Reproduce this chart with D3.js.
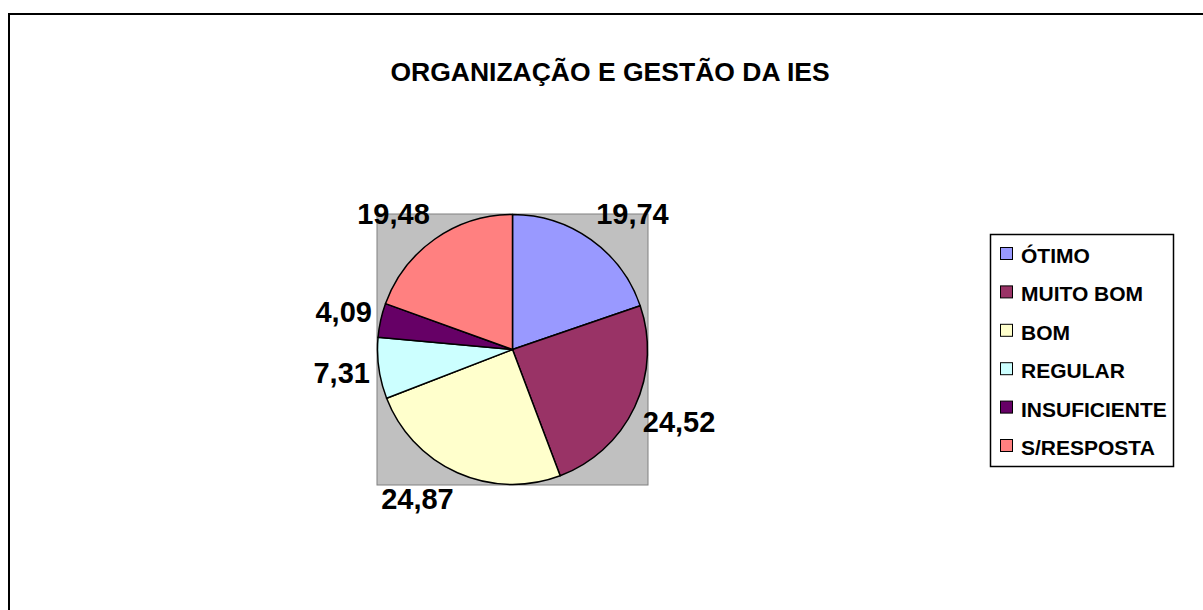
<!DOCTYPE html>
<html>
<head>
<meta charset="utf-8">
<script src="https://d3js.org/d3.v7.min.js"></script>
<style>
  body { margin: 0; background: #fff; }
  svg { display: block; font-family: "Liberation Sans", Arial, sans-serif; font-weight: bold; }
</style>
</head>
<body>
<div id="chart"></div>
<script>
var categories = ["ÓTIMO", "MUITO BOM", "BOM", "REGULAR", "INSUFICIENTE", "S/RESPOSTA"];
var values = [19.74, 24.52, 24.87, 7.31, 4.09, 19.48];
var colors = ["#9999FF", "#993366", "#FFFFCC", "#CCFFFF", "#660066", "#FF8080"];
var title = "ORGANIZAÇÃO E GESTÃO DA IES";

var width = 1203, height = 610;
var cx = 512.5, cy = 349.5, radius = 135;

var svg = d3.select("#chart").append("svg")
    .attr("width", width)
    .attr("height", height);

// outer frame (right and bottom run off the picture)
svg.append("rect")
    .attr("x", 9).attr("y", 14)
    .attr("width", 1200).attr("height", 610)
    .attr("fill", "none")
    .attr("stroke", "#000")
    .attr("stroke-width", 2);

svg.append("text")
    .attr("x", 610).attr("y", 81)
    .attr("text-anchor", "middle")
    .attr("font-size", 26.5)
    .text(title);

// plot area
svg.append("rect")
    .attr("x", cx - radius - 0.5).attr("y", cy - radius - 0.5)
    .attr("width", radius * 2 + 1).attr("height", radius * 2 + 1)
    .attr("fill", "#C0C0C0")
    .attr("stroke", "#808080")
    .attr("stroke-width", 1);

var pie = d3.pie().sort(null).value(function(d) { return d; });
var arcs = pie(values);
var arc = d3.arc().innerRadius(0).outerRadius(radius);

var g = svg.append("g").attr("transform", "translate(" + cx + "," + cy + ")");

g.selectAll("path.slice")
    .data(arcs)
    .enter().append("path")
    .attr("class", "slice")
    .attr("d", arc)
    .attr("fill", function(d, i) { return colors[i]; })
    .attr("stroke", "#000")
    .attr("stroke-width", 1.5)
    .attr("stroke-linejoin", "round");

// data labels, placed outside the slice like Excel does
var fmt = function(v) { return v.toFixed(2).replace(".", ","); };
var labelR = radius + 9, capH = 20, halfH = 18;
var labels = g.selectAll("text.lbl")
    .data(arcs)
    .enter().append("text")
    .attr("class", "lbl")
    .attr("font-size", 29)
    .attr("text-anchor", "middle")
    .text(function(d) { return fmt(d.data); });

labels.each(function(d) {
    var a = (d.startAngle + d.endAngle) / 2;
    var w = this.getComputedTextLength();
    var s = Math.sin(a), c = Math.cos(a);
    var px = labelR * s, py = -labelR * c;
    var ox = w / 2 * Math.max(-1, Math.min(1, s * 2.5));
    var oy = -halfH * Math.max(-1, Math.min(1, c * 1.5));
    d3.select(this)
        .attr("x", px + ox)
        .attr("y", py + oy + capH / 2);
});

// legend
var legend = svg.append("g");
legend.append("rect")
    .attr("x", 990.5).attr("y", 234.5)
    .attr("width", 183).attr("height", 232)
    .attr("fill", "#fff")
    .attr("stroke", "#000")
    .attr("stroke-width", 1.5);

var item = legend.selectAll("g.item")
    .data(categories)
    .enter().append("g")
    .attr("class", "item")
    .attr("transform", function(d, i) { return "translate(1000," + (263 + i * 38.4) + ")"; });

item.append("rect")
    .attr("x", 0.5).attr("y", -15.5)
    .attr("width", 12).attr("height", 12)
    .attr("fill", function(d, i) { return colors[i]; })
    .attr("stroke", "#000")
    .attr("stroke-width", 1);

item.append("text")
    .attr("x", 21).attr("y", 0)
    .attr("font-size", 21)
    .text(function(d) { return d; });
</script>
</body>
</html>
